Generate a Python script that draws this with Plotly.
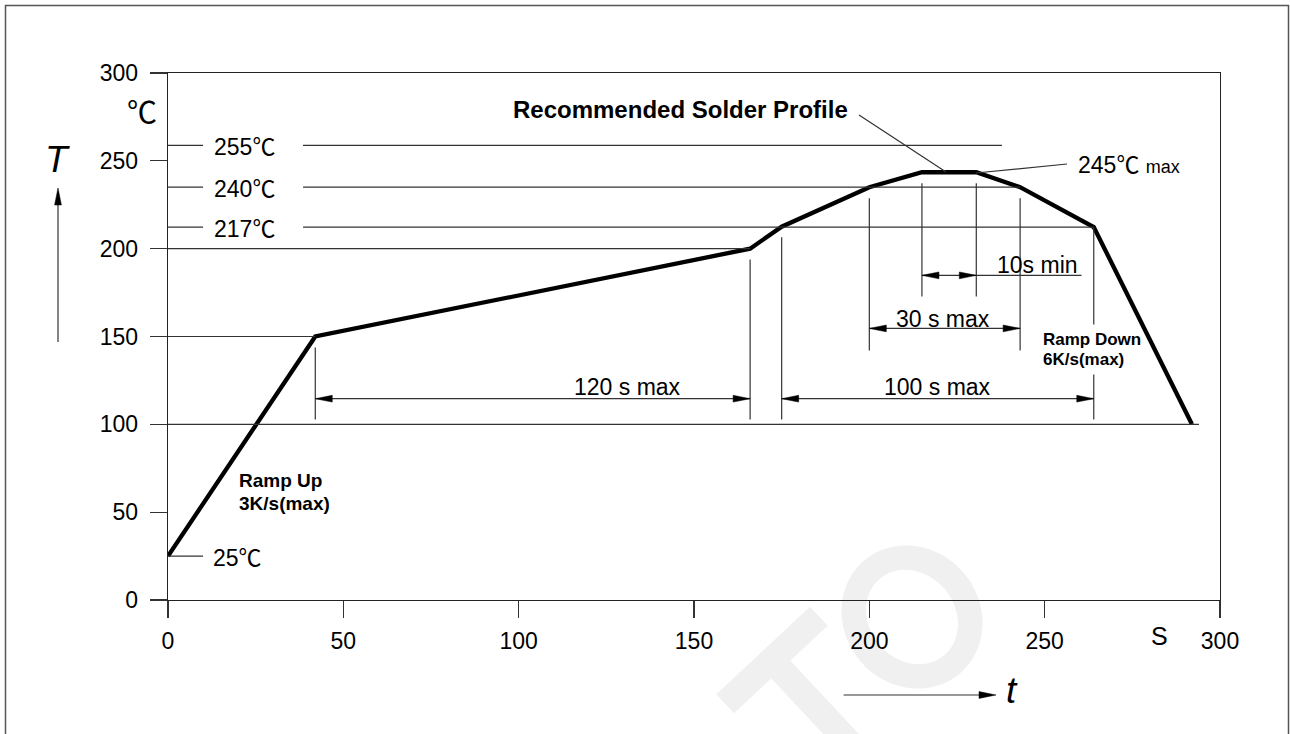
import numpy as np
import plotly.graph_objects as go

# ---------------- data ----------------
profile_t = [0, 42, 166, 175, 200, 215, 230.5, 243, 264, 292]
profile_T = [25, 150, 200, 212.5, 235, 243.5, 243.5, 235, 212.3, 100]

x_ticks = [0, 50, 100, 150, 200, 250, 300]
y_ticks = [0, 50, 100, 150, 200, 250, 300]

ref_labels = ["255", "240", "217"]
ref_levels = [258.8, 235, 212.3]      # where the lines are drawn
ref_ends = [237.8, 243, 264]

start_label = "25"
start_level = 25

grid_levels = [200, 150, 100]
grid_ends = [166, 42, 294]

marker_t = [42, 166, 175, 200, 215, 230.5, 243, 264, 264]
marker_lo = [102.7, 102.7, 102.7, 142, 172.8, 172.8, 142, 156.8, 102.7]
marker_hi = [143.7, 193.9, 206.5, 228.7, 237.3, 237.3, 228.7, 212.3, 128.3]

span_labels = ["120 s max", "100 s max", "30 s max", "10s min"]
span_start = [42, 175, 200, 215]
span_end = [166, 264, 243, 230.5]
span_line_end = [166, 264, 243, 260.5]
span_level = [114.6, 114.6, 154.6, 184.8]
span_text_x = [131, 219.5, 221, 248]
span_text_y = [121.5, 121.5, 160, 190.5]

peak_label = "245"
title_text = "Recommended Solder Profile"

# ---------------- layout helpers ----------------
W, H = 1290, 734
ML, MR, MT, MB = 168, 70, 73, 134
PW, PH = W - ML - MR, H - MT - MB


def px(X):
    return (X - ML) / PW


def py(Y):
    return (H - MB - Y) / PH


FONT = "Liberation Sans, Arial, sans-serif"
CJK = "Noto Sans CJK SC"
DEG = f"<span style='font-family:{CJK}'>℃</span>"
LC = "#333333"
LW = 1.2

fig = go.Figure()

fig.add_trace(go.Scatter(
    x=profile_t, y=profile_T, mode="lines",
    line=dict(color="black", width=4.3), cliponaxis=False,
    hoverinfo="skip", showlegend=False))

shapes = []


def dline(x0, y0, x1, y1, w=LW, c=LC):
    shapes.append(dict(type="line", xref="x", yref="y", x0=x0, y0=y0,
                       x1=x1, y1=y1, line=dict(color=c, width=w)))


def pline(X0, Y0, X1, Y1, w=LW, c=LC):
    shapes.append(dict(type="line", xref="paper", yref="paper",
                       x0=px(X0), y0=py(Y0), x1=px(X1), y1=py(Y1),
                       line=dict(color=c, width=w)))


def head(x, y, direction, ref="data"):
    paths = {
        "right": "M0,0L-17,3.4L-17,-3.4Z",
        "left": "M0,0L17,3.4L17,-3.4Z",
        "up": "M0,0L-3.4,-17L3.4,-17Z",
    }
    d = dict(type="path", xsizemode="pixel", ysizemode="pixel",
             path=paths[direction], fillcolor="black",
             line=dict(color="black", width=0.5))
    if ref == "data":
        d.update(xref="x", yref="y", xanchor=x, yanchor=y)
    else:
        d.update(xref="paper", yref="paper", xanchor=px(x), yanchor=py(y))
    shapes.append(d)


# partial grid lines
for lv, e in zip(grid_levels, grid_ends):
    dline(0, lv, e, lv)

# reference temperature lines (broken for the labels)
for lv, e in zip(ref_levels, ref_ends):
    dline(0, lv, 10, lv)
    dline(38.5, lv, e, lv)
dline(0, start_level, 10, start_level)

# vertical markers
for t, lo, hi in zip(marker_t, marker_lo, marker_hi):
    dline(t, lo, t, hi)

# dimension arrows
for s, e, le, lv in zip(span_start, span_end, span_line_end, span_level):
    dline(s, lv, le, lv)
    head(s, lv, "left")
    head(e, lv, "right")

# leader lines
pline(859, 115, 946, 172)
pline(975.7, 173, 1067, 164)

# axis arrows (T up, t right)
pline(58, 342, 58, 200)
head(58, 188, "up", ref="paper")
pline(843.6, 695, 985, 695)
head(996, 695, "right", ref="paper")

# outer frame
shapes.append(dict(type="rect", xref="paper", yref="paper",
                   x0=px(5.5), x1=px(1288.5), y0=py(745), y1=py(5.5),
                   line=dict(color="#555555", width=1.5)))

# faint watermark (letters drawn as shapes, behind everything)
WM = "#f0f0f0"
ang = np.deg2rad(43)
u = np.array([np.cos(ang), -np.sin(ang)])   # crossbar direction (screen)
dv = np.array([np.sin(ang), np.cos(ang)])   # stem direction (screen)


def poly_path(pts):
    s = "M" + "L".join(f"{px(p[0]):.5f},{py(p[1]):.5f}" for p in pts) + "Z"
    return s


def rect_pts(c, a, b, half_a, half_b):
    return [c + a * half_a + b * half_b, c - a * half_a + b * half_b,
            c - a * half_a - b * half_b, c + a * half_a - b * half_b]


c1 = np.array([772.0, 660.0])
bar = rect_pts(c1, u, dv, 64, 13)
stem_c = c1 + dv * 90
stem = rect_pts(stem_c, dv, u, 80, 13)
for pts in (bar, stem):
    shapes.append(dict(type="path", xref="paper", yref="paper",
                       path=poly_path(pts), fillcolor=WM,
                       line=dict(width=0), layer="below"))

th = np.linspace(0, 2 * np.pi, 73)
oc = np.array([912.0, 617.0])
rot = np.deg2rad(-40)


def ell(a, b, rev=False):
    t = th[::-1] if rev else th
    ex, ey = a * np.cos(t), b * np.sin(t)
    X = oc[0] + ex * np.cos(rot) - ey * np.sin(rot)
    Y = oc[1] + ex * np.sin(rot) + ey * np.cos(rot)
    return list(zip(X, Y))


ring = poly_path(ell(68, 74)) + poly_path(ell(43, 50, rev=True))
shapes.append(dict(type="path", xref="paper", yref="paper", path=ring,
                   fillcolor=WM, line=dict(width=0), layer="below"))

# ---------------- annotations ----------------
ann = []


def text(X, Y, s, size=23, xa="center", ya="middle", bold=False,
         italic=False, family=FONT):
    if bold:
        s = f"<b>{s}</b>"
    if italic:
        s = f"<i>{s}</i>"
    ann.append(dict(xref="paper", yref="paper", x=px(X), y=py(Y), text=s,
                    showarrow=False, xanchor=xa, yanchor=ya,
                    font=dict(family=family, size=size, color="black")))


text(142, 110, "℃", size=30, family=CJK)
text(57, 160, "T", size=37, italic=True)
text(1012, 690, "t", size=37, italic=True)
text(1159, 636, "S", size=25)

for lab, lv in zip(ref_labels, ref_levels):
    Y = H - MB - lv / 300 * PH
    text(212, Y, lab + DEG, xa="left")
text(211, H - MB - start_level / 300 * PH, start_label + DEG, xa="left")

text(680, 109, title_text, size=24, bold=True)
text(1076, 163, peak_label + DEG + " <span style='font-size:18px'>max</span>",
     xa="left")

for lab, tx, ty in zip(span_labels, span_text_x, span_text_y):
    ann.append(dict(xref="x", yref="y", x=tx, y=ty, text=lab,
                    showarrow=False, xanchor="center", yanchor="middle",
                    font=dict(family=FONT, size=23, color="black")))

text(237, 480, "Ramp Up", size=19, xa="left", bold=True)
text(237, 503, "3K/s(max)", size=19, xa="left", bold=True)
text(1041, 339, "Ramp Down", size=17, xa="left", bold=True)
text(1041, 359, "6K/s(max)", size=17, xa="left", bold=True)

axis_common = dict(
    showgrid=False, zeroline=False, showline=True, linecolor="#222222",
    linewidth=1.4, mirror=True, ticks="outside", ticklen=17, tickwidth=1.2,
    tickcolor=LC, tickfont=dict(family=FONT, size=23, color="black"),
    range=[0, 300], fixedrange=True,
)

fig.update_layout(
    width=W, height=H,
    margin=dict(l=ML, r=MR, t=MT, b=MB, pad=0),
    paper_bgcolor="white", plot_bgcolor="rgba(0,0,0,0)",
    showlegend=False, hovermode=False,
    xaxis=dict(tickvals=x_ticks, ticklabelstandoff=3, **axis_common),
    yaxis=dict(tickvals=y_ticks, ticklabelstandoff=7, **axis_common),
    shapes=shapes, annotations=ann,
    font=dict(family=FONT),
)

fig.write_html(
    "out.html",
    config={"displayModeBar": False, "staticPlot": True},
    post_script="document.body.style.margin='0';"
                "document.body.style.overflow='hidden';",
)
